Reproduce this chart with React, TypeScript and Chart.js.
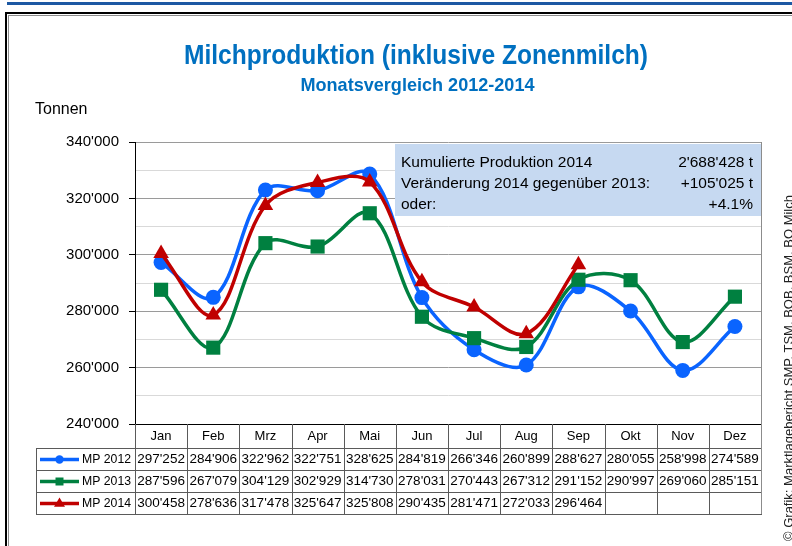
import React, { useEffect, useRef } from 'react';
import { Chart, registerables } from 'chart.js';

Chart.register(...registerables);

const months = ['Jan', 'Feb', 'Mrz', 'Apr', 'Mai', 'Jun', 'Jul', 'Aug', 'Sep', 'Okt', 'Nov', 'Dez'];
const mp2012 = [297252, 284906, 322962, 322751, 328625, 284819, 266346, 260899, 288627, 280055, 258998, 274589];
const mp2013 = [287596, 267079, 304129, 302929, 314730, 278031, 270443, 267312, 291152, 290997, 269060, 285151];
const mp2014 = [300458, 278636, 317478, 325647, 325808, 290435, 281471, 272033, 296464, null, null, null];
const seriesLabels = ['MP 2012', 'MP 2013', 'MP 2014'];
const yMin = 240000;
const yMax = 340000;
const yStep = 10000;
const yLabelStep = 20000;
const title = 'Milchproduktion (inklusive Zonenmilch)';
const subtitle = 'Monatsvergleich 2012-2014';
const yAxisTitle = 'Tonnen';
const infoLabels = ['Kumulierte Produktion 2014', 'Veränderung 2014 gegenüber 2013:', 'oder:'];
const infoValues = ["2'688'428 t", "+105'025 t", '+4.1%'];
const credit = '© Grafik: Marktlagebericht SMP, TSM, BOB, BSM, BO Milch';

const FONT = '"Liberation Sans", Arial, sans-serif';
const BLUE = '#0a64ff';
const GREEN = '#008040';
const RED = '#c00000';

const fmt = (v: number | null) =>
  v == null ? '' : Math.round(v).toString().replace(/\B(?=(\d{3})+(?!\d))/g, "'");

function drawMarker(ctx: CanvasRenderingContext2D, style: string, x: number, y: number, r: number, color: string) {
  ctx.fillStyle = color;
  ctx.beginPath();
  if (style === 'circle') {
    ctx.arc(x, y, r, 0, Math.PI * 2);
  } else if (style === 'rect') {
    ctx.rect(x - r, y - r, 2 * r, 2 * r);
  } else {
    ctx.moveTo(x, y - r * 1.1);
    ctx.lineTo(x + r, y + r * 0.6);
    ctx.lineTo(x - r, y + r * 0.6);
    ctx.closePath();
  }
  ctx.fill();
}

const decorPlugin = {
  id: 'decor',
  beforeDraw(chart: any) {
    const ctx: CanvasRenderingContext2D = chart.ctx;
    const W = chart.width;
    const H = chart.height;
    ctx.save();
    ctx.fillStyle = '#fff';
    ctx.fillRect(0, 0, W, H);
    // top blue bar
    ctx.fillStyle = '#1c58a3';
    ctx.fillRect(7, 2, W - 7, 3);
    // outer black frame
    ctx.fillStyle = '#000';
    ctx.fillRect(5, 12, W - 5, 2);
    ctx.fillRect(5, 12, 2, H - 12);
    // inner gray frame
    ctx.fillStyle = '#8c8c8c';
    ctx.fillRect(8, 15, W - 8, 1);
    ctx.fillRect(8, 15, 1, H - 15);
    // titles
    ctx.fillStyle = '#0070c0';
    ctx.textAlign = 'center';
    ctx.textBaseline = 'alphabetic';
    ctx.font = `bold 28px ${FONT}`;
    ctx.fillText(title, 416, 64, 464);
    ctx.font = `bold 19px ${FONT}`;
    ctx.fillText(subtitle, 417.5, 91, 234);
    // y axis title
    ctx.fillStyle = '#000';
    ctx.textAlign = 'left';
    ctx.font = `16px ${FONT}`;
    ctx.fillText(yAxisTitle, 35, 114);
    // credit (rotated)
    ctx.save();
    ctx.translate(789, 541);
    ctx.rotate(-Math.PI / 2);
    ctx.textAlign = 'left';
    ctx.textBaseline = 'middle';
    ctx.font = `13px ${FONT}`;
    ctx.fillStyle = '#222';
    ctx.fillText(credit, 0, 0);
    ctx.restore();
    ctx.restore();
  },
  beforeDatasetsDraw(chart: any) {
    const ctx: CanvasRenderingContext2D = chart.ctx;
    const a = chart.chartArea;
    ctx.save();
    // info box
    const bx = 395;
    const by = 144;
    ctx.fillStyle = '#c6d9f1';
    ctx.fillRect(bx, by, a.right - bx, 72);
    ctx.fillStyle = '#000';
    ctx.font = `15.5px ${FONT}`;
    ctx.textBaseline = 'alphabetic';
    const baselines = [167, 188, 209];
    infoLabels.forEach((t, i) => {
      ctx.textAlign = 'left';
      ctx.fillText(t, 401, baselines[i]);
      ctx.textAlign = 'right';
      ctx.fillText(infoValues[i], 753, baselines[i]);
    });
    // right plot border
    ctx.strokeStyle = '#8c8c8c';
    ctx.lineWidth = 1;
    ctx.beginPath();
    ctx.moveTo(Math.round(a.right) + 0.5, a.top);
    ctx.lineTo(Math.round(a.right) + 0.5, a.bottom);
    ctx.stroke();
    ctx.restore();
  },
  afterDraw(chart: any) {
    const ctx: CanvasRenderingContext2D = chart.ctx;
    const a = chart.chartArea;
    const xs = chart.scales.x;
    const colW = (a.right - a.left) / months.length;
    const top = Math.round(a.bottom);
    const headerH = 24;
    const rowH = 22;
    const legendLeft = 36;
    const bottom = top + headerH + rowH * 3;
    ctx.save();
    ctx.strokeStyle = '#5a5a5a';
    ctx.lineWidth = 1;
    ctx.beginPath();
    // vertical lines
    for (let i = 0; i <= months.length; i++) {
      const x = Math.round(a.left + i * colW) + 0.5;
      ctx.moveTo(x, top);
      ctx.lineTo(x, bottom);
    }
    // legend column left border
    ctx.moveTo(legendLeft + 0.5, top + headerH);
    ctx.lineTo(legendLeft + 0.5, bottom);
    // horizontal lines
    for (let r = 0; r <= 3; r++) {
      const y = top + headerH + r * rowH + 0.5;
      ctx.moveTo(legendLeft, y);
      ctx.lineTo(Math.round(a.right) + 1, y);
    }
    ctx.stroke();
    // right border stronger gray
    ctx.strokeStyle = '#8c8c8c';
    ctx.beginPath();
    ctx.moveTo(Math.round(a.right) + 0.5, top);
    ctx.lineTo(Math.round(a.right) + 0.5, bottom);
    ctx.stroke();

    ctx.fillStyle = '#000';
    ctx.textAlign = 'center';
    ctx.textBaseline = 'middle';
    ctx.font = `13px ${FONT}`;
    months.forEach((m, i) => {
      ctx.fillText(m, xs.getPixelForValue(i), top + headerH / 2 + 0.5);
    });
    ctx.font = `13.5px ${FONT}`;
    chart.data.datasets.forEach((ds: any, r: number) => {
      const cy = top + headerH + r * rowH + rowH / 2 + 0.5;
      ds.data.forEach((v: number | null, i: number) => {
        if (v == null) return;
        ctx.fillText(fmt(v), xs.getPixelForValue(i), cy, colW - 3);
      });
      // legend sample
      ctx.strokeStyle = ds.borderColor;
      ctx.lineWidth = 3.5;
      ctx.beginPath();
      ctx.moveTo(40, cy);
      ctx.lineTo(79, cy);
      ctx.stroke();
      const st = ds.pointStyle;
      drawMarker(ctx, st, 59.5, cy, st === 'circle' ? 4.2 : st === 'rect' ? 4 : 5.5, ds.borderColor);
      ctx.fillStyle = '#000';
      ctx.textAlign = 'left';
      ctx.fillText(seriesLabels[r], 82, cy, 49);
      ctx.textAlign = 'center';
    });
    ctx.restore();
  },
};

export default function App() {
  const ref = useRef<HTMLCanvasElement>(null);
  useEffect(() => {
    if (!ref.current) return;
    const mk = (label: string, data: (number | null)[], color: string, style: string, radius: number, order: number) => ({
      label,
      data,
      borderColor: color,
      backgroundColor: color,
      pointBackgroundColor: color,
      pointBorderColor: color,
      pointBorderWidth: 0,
      borderWidth: 3.5,
      pointStyle: style,
      pointRadius: radius,
      tension: 0.35,
      spanGaps: false,
      order,
    });
    const chart = new Chart(ref.current, {
      type: 'line',
      data: {
        labels: months,
        datasets: [
          mk(seriesLabels[0], mp2012, BLUE, 'circle', 7.5, 3),
          mk(seriesLabels[1], mp2013, GREEN, 'rect', 10, 2),
          mk(seriesLabels[2], mp2014, RED, 'triangle', 9, 1),
        ],
      },
      options: {
        responsive: false,
        animation: false,
        devicePixelRatio: 1,
        layout: { padding: { left: 0, top: 142, right: 31, bottom: 122 } },
        plugins: {
          legend: { display: false },
          tooltip: { enabled: false },
          title: { display: false },
        },
        scales: {
          x: { type: 'category', display: false, offset: true },
          y: {
            min: yMin,
            max: yMax,
            afterFit: (s: any) => {
              s.width = 135;
            },
            ticks: {
              stepSize: yStep,
              autoSkip: false,
              padding: 10,
              color: '#000',
              font: { family: FONT, size: 15 },
              callback: (v: any) => (Number(v) % yLabelStep === 0 ? fmt(Number(v)) : ''),
            },
            grid: {
              lineWidth: 1,
              tickLength: 6,
              color: (c: any) => {
                const v = c.tick ? c.tick.value : 0;
                if (v === yMin) return '#000';
                return v % yLabelStep === 0 ? '#9a9a9a' : '#d9d9d9';
              },
              tickColor: (c: any) => {
                const v = c.tick ? c.tick.value : 0;
                return v % yLabelStep === 0 ? '#000' : 'rgba(0,0,0,0)';
              },
            },
            border: { display: true, color: '#000', width: 1 },
          },
        },
      } as any,
      plugins: [decorPlugin],
    });
    return () => chart.destroy();
  }, []);
  return (
    <div style={{ position: 'absolute', left: 0, top: 0, width: 792, height: 546 }}>
      <canvas ref={ref} width={792} height={546} style={{ display: 'block', width: 792, height: 546 }} />
    </div>
  );
}
